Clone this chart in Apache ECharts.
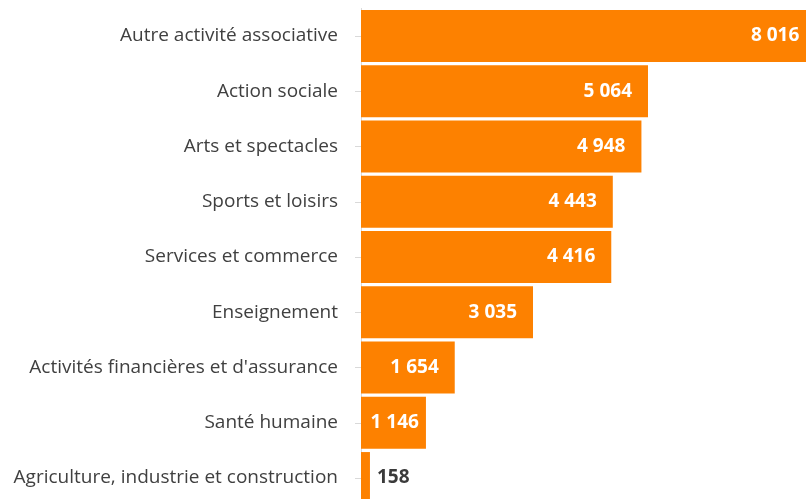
<!DOCTYPE html>
<html><head><meta charset="utf-8">
<script src="https://cdn.jsdelivr.net/npm/echarts@6/dist/echarts.min.js"></script>
<style>html,body{margin:0;padding:0;background:#fff}#c{width:806px;height:499px}</style>
</head><body><div id="c"></div>
<script>
const categories = ["Autre activité associative","Action sociale","Arts et spectacles","Sports et loisirs","Services et commerce","Enseignement","Activités financières et d'assurance","Santé humaine","Agriculture, industrie et construction"];
const values = [8016,5064,4948,4443,4416,3035,1654,1146,158];

const fmt = v => String(v).replace(/\B(?=(\d{3})+(?!\d))/g, ' ');
const chart = echarts.init(document.getElementById('c'));
chart.setOption({
  animation: false,
  grid: {left: 361, right: -9.3, top: 8.4, bottom: -6.65, containLabel: false, outerBoundsMode: 'none'},
  xAxis: {type: 'value', min: 0, max: 8016, show: false},
  yAxis: {
    type: 'category', data: categories, inverse: true,
    axisLine: {show: true, lineStyle: {color: '#d9d9d9', width: 1}},
    axisTick: {show: true, alignWithLabel: true, length: 6, lineStyle: {color: '#d9d9d9'}},
    axisLabel: {margin: 23, color: '#404040', fontSize: 19, fontFamily: 'Open Sans'}
  },
  series: [{
    type: 'bar', clip: false,
    data: values.map(v => v < 500 ? {value: v, label: {position: 'right', color: '#3a3a3a', distance: 7}}
                       : v < 1500 ? {value: v, label: {distance: 7}} : v),
    barCategoryGap: '6%',
    itemStyle: {color: '#fd8100'},
    label: {show: true, position: 'insideRight', distance: 16, color: '#fff', fontWeight: 'bold', fontSize: 19, fontFamily: 'Open Sans', formatter: p => fmt(p.value)}
  }]
});
</script></body></html>
